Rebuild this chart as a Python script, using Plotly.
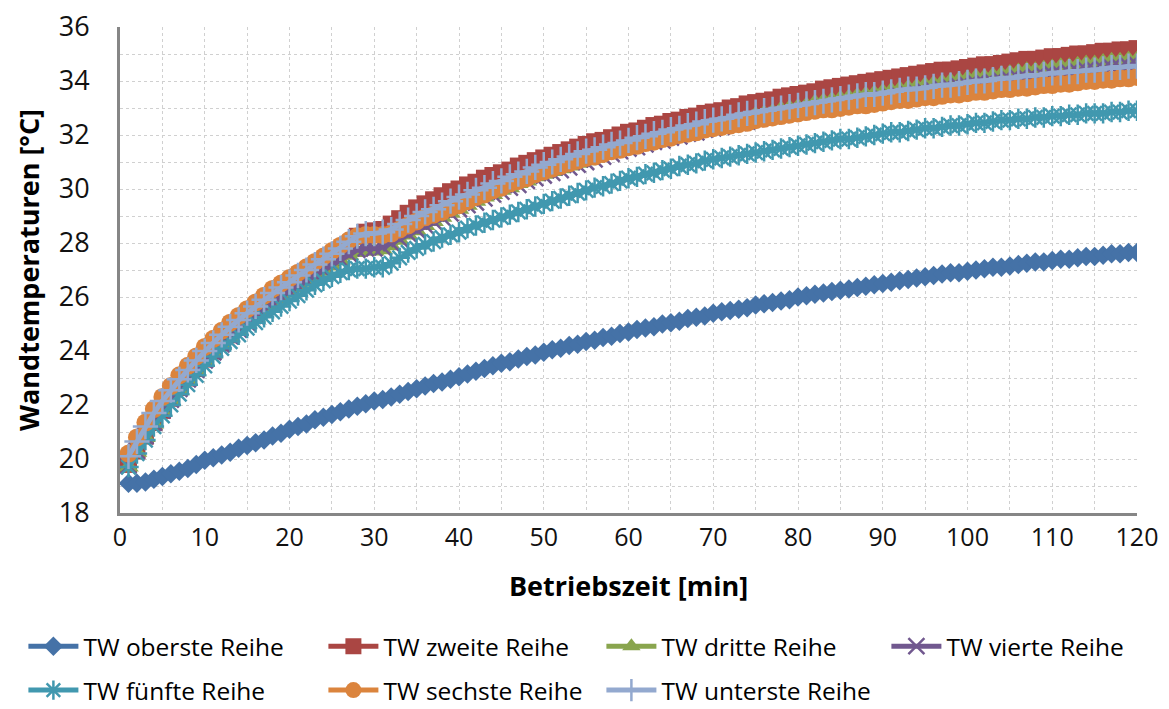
import plotly.graph_objects as go

minutes = list(range(1, 121))

oberste = [19.10,19.10,19.15,19.25,19.35,19.45,19.55,19.65,19.80,19.95,
20.05,20.15,20.25,20.40,20.50,20.60,20.70,20.85,20.95,21.10,
21.20,21.30,21.45,21.55,21.65,21.75,21.85,21.95,22.05,22.15,
22.20,22.30,22.40,22.50,22.60,22.70,22.80,22.85,22.95,23.05,
23.15,23.25,23.35,23.45,23.55,23.60,23.70,23.80,23.85,23.95,
24.05,24.10,24.20,24.25,24.35,24.40,24.50,24.55,24.65,24.70,
24.80,24.85,24.90,25.00,25.05,25.10,25.20,25.25,25.30,25.40,
25.45,25.50,25.55,25.60,25.70,25.75,25.80,25.85,25.90,26.00,
26.05,26.10,26.15,26.20,26.25,26.30,26.35,26.40,26.45,26.50,
26.55,26.60,26.65,26.70,26.75,26.80,26.85,26.90,26.90,26.95,
27.00,27.05,27.10,27.10,27.15,27.20,27.25,27.30,27.30,27.35,
27.40,27.40,27.45,27.50,27.50,27.55,27.60,27.60,27.65,27.65]

zweite = [19.80,20.30,20.85,21.35,21.80,22.25,22.65,23.00,23.35,23.70,
24.00,24.30,24.60,24.90,25.15,25.40,25.65,25.90,26.10,26.35,
26.55,26.80,27.00,27.20,27.45,27.70,27.95,28.25,28.40,28.45,
28.50,28.70,28.90,29.10,29.30,29.45,29.60,29.75,29.90,30.00,
30.15,30.25,30.40,30.50,30.60,30.70,30.85,30.95,31.05,31.15,
31.25,31.35,31.45,31.55,31.65,31.75,31.80,31.90,32.00,32.10,
32.15,32.25,32.35,32.40,32.50,32.55,32.65,32.70,32.80,32.85,
32.90,33.00,33.05,33.15,33.20,33.25,33.30,33.40,33.45,33.50,
33.55,33.60,33.70,33.75,33.80,33.85,33.90,33.95,34.00,34.05,
34.10,34.15,34.20,34.25,34.30,34.35,34.40,34.40,34.45,34.50,
34.55,34.60,34.60,34.65,34.70,34.75,34.80,34.80,34.85,34.90,
34.90,34.95,35.00,35.00,35.05,35.10,35.10,35.15,35.15,35.20]

dritte = [19.70,20.25,20.80,21.30,21.75,22.15,22.55,22.90,23.25,23.60,
23.90,24.20,24.50,24.75,25.00,25.25,25.50,25.70,25.95,26.15,
26.35,26.55,26.75,26.95,27.15,27.35,27.55,27.65,27.70,27.70,
27.75,27.90,28.10,28.30,28.45,28.65,28.80,28.95,29.10,29.25,
29.40,29.55,29.70,29.80,29.95,30.05,30.20,30.30,30.45,30.55,
30.65,30.75,30.85,30.95,31.05,31.15,31.25,31.35,31.45,31.55,
31.65,31.70,31.80,31.90,31.95,32.05,32.15,32.20,32.30,32.35,
32.45,32.50,32.60,32.65,32.75,32.80,32.85,32.95,33.00,33.05,
33.10,33.20,33.25,33.30,33.35,33.40,33.45,33.50,33.55,33.60,
33.65,33.70,33.75,33.80,33.85,33.90,33.95,34.00,34.05,34.10,
34.15,34.15,34.20,34.25,34.30,34.35,34.40,34.40,34.45,34.50,
34.55,34.55,34.60,34.65,34.65,34.70,34.75,34.75,34.80,34.80]

vierte = [19.75,20.30,20.85,21.35,21.80,22.20,22.60,22.95,23.30,23.65,
23.95,24.25,24.55,24.80,25.05,25.30,25.55,25.80,26.00,26.20,
26.40,26.60,26.80,27.00,27.20,27.40,27.60,27.75,27.80,27.80,
27.85,28.00,28.15,28.35,28.50,28.65,28.80,28.95,29.10,29.25,
29.40,29.50,29.65,29.80,29.90,30.05,30.15,30.30,30.40,30.50,
30.60,30.70,30.80,30.90,31.00,31.10,31.20,31.30,31.40,31.50,
31.55,31.65,31.75,31.80,31.90,31.95,32.05,32.10,32.20,32.25,
32.30,32.40,32.45,32.50,32.60,32.65,32.70,32.75,32.80,32.85,
32.90,32.95,33.00,33.05,33.10,33.15,33.20,33.25,33.30,33.35,
33.40,33.45,33.50,33.55,33.60,33.65,33.70,33.75,33.80,33.85,
33.90,33.90,33.95,34.00,34.05,34.10,34.10,34.15,34.20,34.25,
34.25,34.30,34.35,34.40,34.40,34.45,34.50,34.50,34.55,34.60]

fuenfte = [19.70,20.20,20.70,21.20,21.60,22.00,22.40,22.75,23.10,23.45,
23.80,24.10,24.35,24.60,24.85,25.05,25.25,25.45,25.65,25.85,
26.05,26.25,26.45,26.60,26.75,26.90,27.00,27.05,27.05,27.10,
27.10,27.25,27.45,27.65,27.80,27.95,28.05,28.20,28.30,28.40,
28.55,28.65,28.75,28.85,28.95,29.05,29.15,29.25,29.35,29.45,
29.55,29.65,29.75,29.85,29.95,30.05,30.10,30.20,30.30,30.40,
30.45,30.55,30.60,30.70,30.75,30.85,30.90,30.95,31.05,31.10,
31.15,31.20,31.25,31.30,31.35,31.40,31.45,31.50,31.55,31.60,
31.65,31.70,31.75,31.80,31.85,31.85,31.90,31.95,32.00,32.05,
32.10,32.10,32.15,32.20,32.25,32.25,32.30,32.35,32.35,32.40,
32.45,32.45,32.50,32.55,32.55,32.60,32.60,32.65,32.65,32.70,
32.70,32.75,32.75,32.80,32.80,32.80,32.85,32.85,32.90,32.90]

sechste = [20.20,20.80,21.35,21.85,22.30,22.70,23.10,23.45,23.80,24.15,
24.45,24.75,25.05,25.30,25.55,25.80,26.05,26.30,26.50,26.70,
26.90,27.10,27.30,27.50,27.70,27.90,28.10,28.25,28.30,28.30,
28.30,28.35,28.50,28.65,28.80,28.95,29.05,29.15,29.30,29.40,
29.55,29.70,29.80,29.95,30.05,30.20,30.30,30.40,30.55,30.65,
30.75,30.85,30.95,31.05,31.15,31.20,31.30,31.40,31.45,31.55,
31.60,31.70,31.75,31.85,31.90,32.00,32.05,32.10,32.20,32.25,
32.30,32.35,32.40,32.45,32.55,32.60,32.65,32.70,32.75,32.80,
32.85,32.90,32.95,32.95,33.00,33.05,33.10,33.10,33.15,33.20,
33.25,33.30,33.30,33.35,33.40,33.40,33.45,33.50,33.50,33.55,
33.60,33.60,33.65,33.70,33.70,33.75,33.75,33.80,33.85,33.85,
33.90,33.90,33.95,34.00,34.00,34.05,34.05,34.10,34.10,34.15]

unterste = [20.10,20.65,21.20,21.70,22.15,22.55,22.95,23.30,23.65,24.00,
24.30,24.60,24.90,25.15,25.40,25.65,25.90,26.15,26.35,26.55,
26.80,27.00,27.20,27.40,27.60,27.80,28.05,28.25,28.35,28.35,
28.40,28.50,28.70,28.85,29.00,29.15,29.25,29.40,29.55,29.70,
29.80,29.95,30.05,30.20,30.30,30.45,30.55,30.65,30.80,30.90,
31.00,31.10,31.20,31.30,31.40,31.45,31.55,31.65,31.70,31.80,
31.90,31.95,32.05,32.10,32.20,32.25,32.35,32.40,32.50,32.55,
32.60,32.65,32.75,32.80,32.85,32.90,32.95,33.00,33.05,33.10,
33.15,33.20,33.25,33.30,33.35,33.40,33.45,33.50,33.50,33.55,
33.60,33.65,33.70,33.70,33.75,33.80,33.85,33.85,33.90,33.95,
34.00,34.00,34.05,34.10,34.10,34.15,34.20,34.20,34.25,34.30,
34.30,34.35,34.35,34.40,34.40,34.45,34.50,34.50,34.55,34.55]

names = ["TW oberste Reihe", "TW zweite Reihe", "TW dritte Reihe", "TW vierte Reihe",
         "TW fünfte Reihe", "TW sechste Reihe", "TW unterste Reihe"]
values = [oberste, zweite, dritte, vierte, fuenfte, sechste, unterste]
colors = ["#4572A7", "#AA4643", "#89A54E", "#71588F", "#4198AF", "#DB843D", "#93A9CF"]
symbols = ["diamond", "square", "triangle-up", "x-thin-open", "asterisk-open", "circle", "cross-thin-open"]
sizes = [15, 17, 18, 16, 17, 18, 18]
# legend column for each series (4 columns, two rows like the reference)
legends = ["legend", "legend2", "legend3", "legend4", "legend", "legend2", "legend3"]

fig = go.Figure()
for i, (name, ys, col, sym, sz, leg) in enumerate(zip(names, values, colors, symbols, sizes, legends)):
    if sym.endswith("open"):
        mk = dict(symbol=sym, size=sz, color=col, line=dict(color=col, width=2.5))
    else:
        mk = dict(symbol=sym, size=sz, color=col, line=dict(width=0))
    fig.add_trace(go.Scatter(
        x=minutes, y=ys, name=name, mode="lines+markers",
        line=dict(color=col, width=5), marker=mk, legend=leg,
        legendgroup="g%d" % i,
    ))

grid = dict(gridcolor="#D0D0D0", griddash="dot", gridwidth=1)
font_family = "Open Sans"

def col_legend(px):
    return dict(
        orientation="v", x=(px - 6.6 - 120) / 1017, y=-0.228,
        xanchor="left", yanchor="top",
        font=dict(size=24.5, family=font_family, color="#000"), itemwidth=50,
        tracegroupgap=9, bgcolor="rgba(0,0,0,0)", traceorder="grouped",
    )

fig.update_layout(
    width=1169, height=709,
    margin=dict(l=120, r=32, t=27, b=196, autoexpand=False),
    paper_bgcolor="white", plot_bgcolor="white",
    font=dict(family=font_family, color="#000000", size=24),
    xaxis=dict(
        range=[0, 120], dtick=10, tick0=0, showgrid=True, **grid,
        minor=dict(dtick=5, showgrid=True, gridcolor="#D0D0D0", griddash="dot", gridwidth=1),
        showline=True, linecolor="#868686", linewidth=3, zeroline=False,
        ticks="", tickfont=dict(size=25, family=font_family, color="#111"),
        title=dict(text="<b>Betriebszeit [min]</b>", font=dict(size=27, family=font_family), standoff=26),
        automargin=False, fixedrange=True,
    ),
    yaxis=dict(
        range=[18, 36], dtick=2, tick0=18, showgrid=True, **grid,
        minor=dict(dtick=1, showgrid=True, gridcolor="#D0D0D0", griddash="dot", gridwidth=1),
        showline=True, linecolor="#868686", linewidth=3, zeroline=False,
        ticks="", ticklabelstandoff=22, tickfont=dict(size=27, family=font_family, color="#111"),
        title=dict(text="<b>Wandtemperaturen [°C]</b>", font=dict(size=27, family=font_family), standoff=12),
        automargin=False, fixedrange=True,
    ),
    legend=col_legend(30),
    legend2=col_legend(330),
    legend3=col_legend(608),
    legend4=col_legend(893),
)

fig.write_html("out.html")
